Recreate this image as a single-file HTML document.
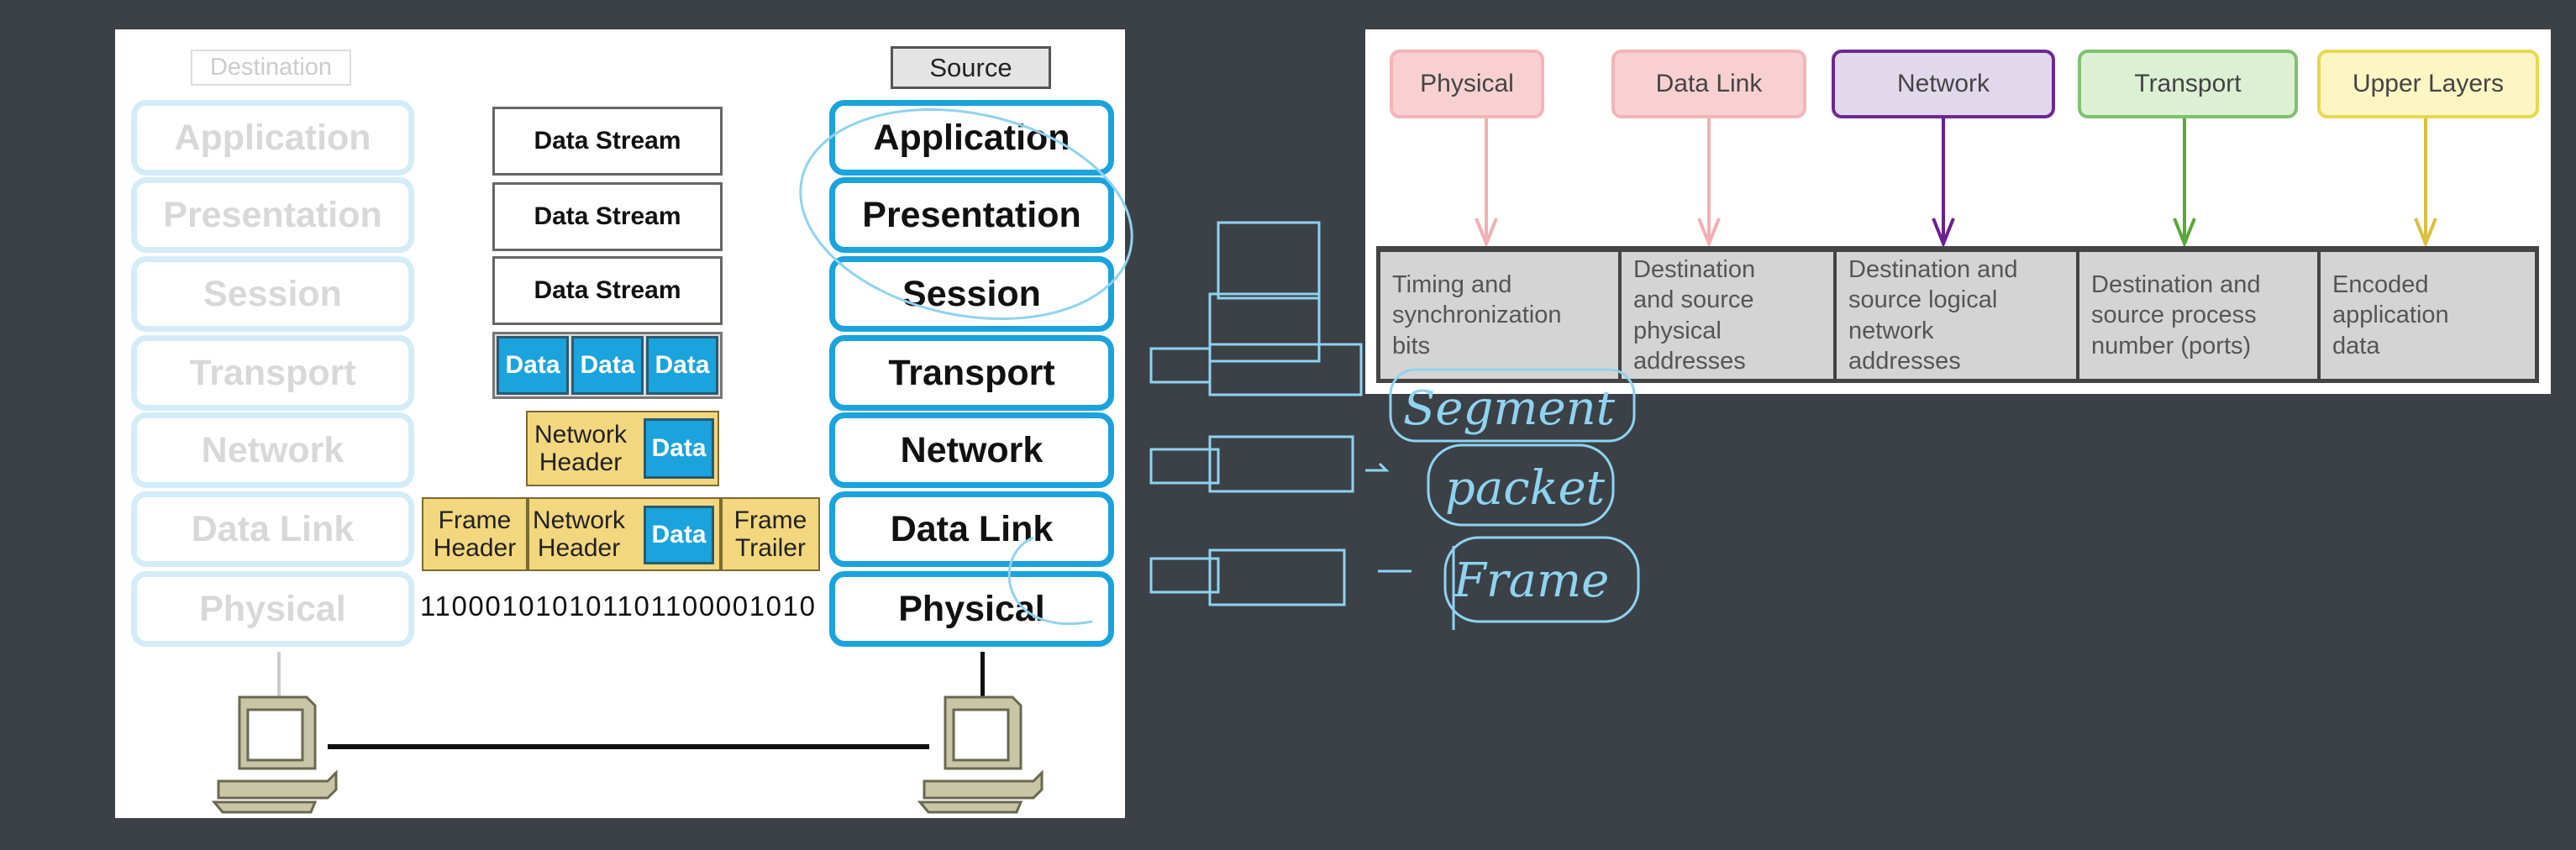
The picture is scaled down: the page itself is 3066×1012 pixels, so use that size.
<!DOCTYPE html>
<html><head><style>
body{margin:0;width:3066px;height:1012px;background:#3c4147;overflow:hidden;position:relative;font-family:"Liberation Sans",sans-serif}
.a{position:absolute;box-sizing:border-box}
.c{display:flex;align-items:center;justify-content:center;text-align:center}
.ll{border:7px solid #d3ecf8;border-radius:18px;color:#d8d8d8;font-weight:bold;font-size:43px;background:#fff}
.rl{border:7px solid #1aa3dc;border-radius:18px;color:#111;font-weight:bold;font-size:43px;background:#fff}
.ds{border:3px solid #666;background:#fff;font-weight:bold;font-size:30px;color:#111}
.dt{background:#1aa3dc;border:3px solid #2a5a70;color:#fff;font-weight:bold;font-size:30px}
.y{background:#f3d77e;border:2px solid #7a6a30;font-size:30px;color:#222;line-height:1.1}
.tb{border:4px solid #fff;border-radius:12px;font-size:30px;color:#444}
.cell{font-size:29px;color:#555;line-height:1.25;padding-left:14px;display:flex;align-items:center}
</style></head><body>
<div class="a" style="left:137px;top:35px;width:1202px;height:939px;background:#fff"></div>
<div class="a c" style="left:227px;top:59px;width:191px;height:43px;border:2px solid #ddd;color:#ccc;font-size:29px">Destination</div>
<div class="a c" style="left:1060px;top:55px;width:191px;height:51px;border:3px solid #555;background:#e4e4e4;color:#222;font-size:31px">Source</div>

<div class="a c ll" style="left:156px;top:119px;width:337px;height:90px">Application</div>
<div class="a c ll" style="left:156px;top:211px;width:337px;height:90px">Presentation</div>
<div class="a c ll" style="left:156px;top:305px;width:337px;height:90px">Session</div>
<div class="a c ll" style="left:156px;top:399px;width:337px;height:90px">Transport</div>
<div class="a c ll" style="left:156px;top:491px;width:337px;height:90px">Network</div>
<div class="a c ll" style="left:156px;top:585px;width:337px;height:90px">Data Link</div>
<div class="a c ll" style="left:156px;top:680px;width:337px;height:90px">Physical</div>

<div class="a c rl" style="left:987px;top:119px;width:339px;height:90px">Application</div>
<div class="a c rl" style="left:987px;top:211px;width:339px;height:90px">Presentation</div>
<div class="a c rl" style="left:987px;top:305px;width:339px;height:90px">Session</div>
<div class="a c rl" style="left:987px;top:399px;width:339px;height:90px">Transport</div>
<div class="a c rl" style="left:987px;top:491px;width:339px;height:90px">Network</div>
<div class="a c rl" style="left:987px;top:585px;width:339px;height:90px">Data Link</div>
<div class="a c rl" style="left:987px;top:680px;width:339px;height:90px">Physical</div>

<div class="a c ds" style="left:586px;top:127px;width:274px;height:82px">Data Stream</div>
<div class="a c ds" style="left:586px;top:217px;width:274px;height:82px">Data Stream</div>
<div class="a c ds" style="left:586px;top:305px;width:274px;height:82px">Data Stream</div>
<div class="a" style="left:586px;top:395px;width:274px;height:80px;border:3px solid #777;background:#ddd"></div>
<div class="a c dt" style="left:591px;top:400px;width:86px;height:70px">Data</div>
<div class="a c dt" style="left:680px;top:400px;width:86px;height:70px">Data</div>
<div class="a c dt" style="left:769px;top:400px;width:86px;height:70px">Data</div>
<div class="a c y" style="left:626px;top:489px;width:230px;height:90px;justify-content:flex-start;padding-left:8px">Network<br>Header</div>
<div class="a c dt" style="left:766px;top:498px;width:84px;height:72px">Data</div>
<div class="a c y" style="left:502px;top:592px;width:126px;height:88px">Frame<br>Header</div>
<div class="a c y" style="left:628px;top:592px;width:230px;height:88px;justify-content:flex-start;padding-left:4px">Network<br>Header</div>
<div class="a c dt" style="left:766px;top:602px;width:84px;height:70px">Data</div>
<div class="a c y" style="left:858px;top:592px;width:118px;height:88px">Frame<br>Trailer</div>
<div class="a" style="left:500px;top:703px;font-size:33px;color:#111;letter-spacing:1.6px">110001010101101100001010</div>

<div class="a" style="left:330px;top:776px;width:4px;height:56px;background:#ccc"></div>
<div class="a" style="left:1167px;top:776px;width:5px;height:56px;background:#111"></div>
<div class="a" style="left:390px;top:886px;width:716px;height:6px;background:#111"></div>
<svg class="a" style="left:250px;top:825px" width="160" height="145"><polygon points="35,5 115,5 125,15 125,90 35,90" fill="#c9c6a8" stroke="#6a6850" stroke-width="3"/><rect x="45" y="20" width="65" height="60" fill="#fff" stroke="#6a6850" stroke-width="3"/><polygon points="10,105 140,105 150,95 150,115 140,125 10,125" fill="#c9c6a8" stroke="#6a6850" stroke-width="3"/><polygon points="5,130 125,130 120,142 15,142" fill="#c9c6a8" stroke="#6a6850" stroke-width="3"/></svg>
<svg class="a" style="left:1090px;top:825px" width="160" height="145"><polygon points="35,5 115,5 125,15 125,90 35,90" fill="#c9c6a8" stroke="#6a6850" stroke-width="3"/><rect x="45" y="20" width="65" height="60" fill="#fff" stroke="#6a6850" stroke-width="3"/><polygon points="10,105 140,105 150,95 150,115 140,125 10,125" fill="#c9c6a8" stroke="#6a6850" stroke-width="3"/><polygon points="5,130 125,130 120,142 15,142" fill="#c9c6a8" stroke="#6a6850" stroke-width="3"/></svg>

<div class="a" style="left:1625px;top:35px;width:1411px;height:434px;background:#fff"></div>
<div class="a c tb" style="left:1654px;top:59px;width:184px;height:82px;background:#f9d0d2;border-color:#f2b5b8">Physical</div>
<div class="a c tb" style="left:1918px;top:59px;width:232px;height:82px;background:#f9d0d2;border-color:#f2b5b8">Data Link</div>
<div class="a c tb" style="left:2180px;top:59px;width:266px;height:82px;background:#e2d8ec;border-color:#6a2a90">Network</div>
<div class="a c tb" style="left:2473px;top:59px;width:262px;height:82px;background:#dcf0d4;border-color:#80c070">Transport</div>
<div class="a c tb" style="left:2758px;top:59px;width:264px;height:82px;background:#fbf6c4;border-color:#e8d850">Upper Layers</div>
<svg class="a" style="left:1625px;top:35px" width="1411" height="434">
<g stroke-width="4" fill="none">
<path d="M144 106V250M132 225L144 255L156 225" stroke="#f2b0b4"/>
<path d="M409 106V250M397 225L409 255L421 225" stroke="#f2b0b4"/>
<path d="M688 106V250M676 225L688 255L700 225" stroke="#6a2090"/>
<path d="M975 106V250M963 225L975 255L987 225" stroke="#5aa838"/>
<path d="M1262 106V250M1250 225L1262 255L1274 225" stroke="#d8c040"/>
</g></svg>
<div class="a" style="left:1638px;top:293px;width:1384px;height:163px;background:#d4d4d4;border:5px solid #444;border-top-width:7px"></div>
<div class="a cell" style="left:1643px;top:300px;width:287px;height:151px;border-right:4px solid #444">Timing and<br>synchronization<br>bits</div>
<div class="a cell" style="left:1930px;top:300px;width:256px;height:151px;border-right:4px solid #444">Destination<br>and source<br>physical<br>addresses</div>
<div class="a cell" style="left:2186px;top:300px;width:289px;height:151px;border-right:4px solid #444">Destination and<br>source logical<br>network<br>addresses</div>
<div class="a cell" style="left:2475px;top:300px;width:287px;height:151px;border-right:4px solid #444">Destination and<br>source process<br>number (ports)</div>
<div class="a cell" style="left:2762px;top:300px;width:255px;height:151px">Encoded<br>application<br>data</div>

<svg class="a" style="left:0;top:0" width="3066" height="1012">
<g stroke="#8fd3f0" stroke-width="3" fill="none">
<ellipse cx="1150" cy="255" rx="200" ry="120" transform="rotate(12 1150 255)"/>
<path d="M1230 640C1180 660 1190 760 1300 740"/>
<rect x="1450" y="265" width="120" height="90"/><rect x="1440" y="350" width="130" height="80"/>
<rect x="1370" y="415" width="70" height="40"/><rect x="1440" y="410" width="180" height="60"/>
<rect x="1370" y="535" width="80" height="40"/><rect x="1440" y="520" width="170" height="65"/>
<rect x="1370" y="665" width="80" height="40"/><rect x="1440" y="655" width="160" height="65"/>
<path d="M1625 560h25l-8 -8M1640 680h40"/>
<rect x="1655" y="440" width="290" height="85" rx="30"/>
<rect x="1700" y="530" width="220" height="95" rx="40"/>
<rect x="1720" y="640" width="230" height="100" rx="40"/>
<path d="M1730 650V750"/>
</g>
<g fill="#8fd3f0" font-family="DejaVu Serif,serif" font-style="italic" font-size="56">
<text x="1670" y="505">Segment</text><text x="1720" y="600">packet</text><text x="1730" y="710">Frame</text></g>
</svg>
</body></html>
